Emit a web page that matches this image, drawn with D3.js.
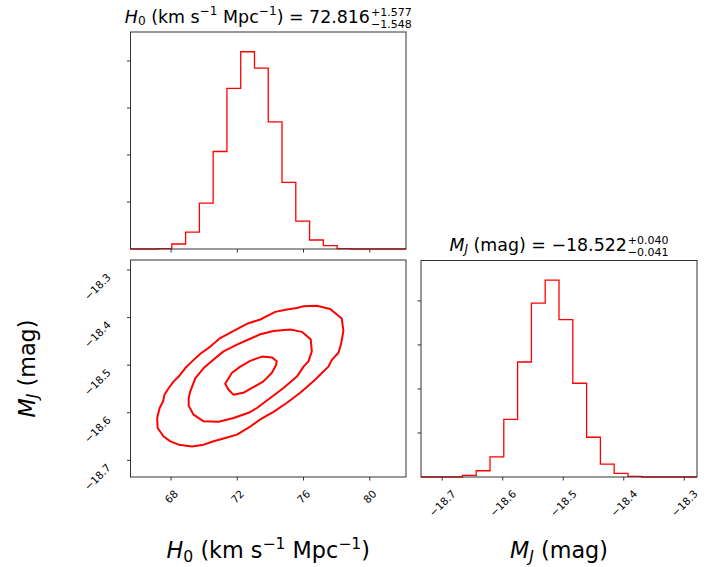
<!DOCTYPE html>
<html>
<head>
<meta charset="utf-8">
<script src="https://cdn.jsdelivr.net/npm/d3@7"></script>
<style>
  body { margin: 0; background: #fff; }
  svg { display: block; }
  text { font-family: "DejaVu Sans", sans-serif; fill: #000; }
</style>
</head>
<body>
<svg id="chart" width="704" height="567"></svg>
<script>
// ---- posterior samples summarised as histograms (20 bins across each range) ----
const h0Range = [65.55, 82.19];
const mjRange = [-18.735, -18.279];
const h0Counts = [0, 0, 10, 106, 361, 977, 2074, 3418, 4197, 3849, 2703, 1416, 594, 191, 70, 6, 0, 0, 0, 0];
const mjCounts = [0, 0, 0, 38, 142, 458, 1309, 2612, 3950, 4470, 3573, 2129, 903, 293, 84, 16, 0, 0, 0, 0];

// ---- tick values ----
const h0Ticks = [68, 72, 76, 80];
const mjTicks = [-18.7, -18.6, -18.5, -18.4, -18.3];
const countTicks = [1000, 2000, 3000, 4000];

// ---- joint-posterior credible contours, [H0, M_J] vertices ----
const contourOuter = [
  [67.19, -18.632], [67.16, -18.611], [67.31, -18.590], [67.52, -18.576], [67.60, -18.562],
  [67.86, -18.548], [68.16, -18.534], [68.46, -18.524], [68.86, -18.506], [69.27, -18.492],
  [69.77, -18.476], [70.37, -18.461], [70.97, -18.443], [71.78, -18.428], [72.58, -18.413],
  [73.39, -18.404], [73.79, -18.397], [74.29, -18.388], [75.00, -18.383], [75.60, -18.380],
  [76.00, -18.376], [76.80, -18.375], [77.61, -18.382], [78.31, -18.402], [78.41, -18.428],
  [78.27, -18.455], [78.11, -18.474], [77.71, -18.489], [77.50, -18.503], [77.00, -18.520],
  [76.60, -18.534], [75.80, -18.558], [75.00, -18.579], [74.19, -18.598], [73.39, -18.614],
  [72.78, -18.629], [71.98, -18.646], [71.38, -18.652], [70.57, -18.660], [69.97, -18.667],
  [69.27, -18.671], [68.46, -18.667], [67.96, -18.660], [67.55, -18.650]
];
const contourMiddle = [
  [69.06, -18.585], [69.07, -18.568], [69.16, -18.555], [69.47, -18.527], [69.97, -18.506],
  [70.57, -18.488], [71.17, -18.471], [71.98, -18.457], [72.68, -18.446], [73.39, -18.435],
  [74.19, -18.428], [75.19, -18.425], [75.90, -18.430], [76.44, -18.446], [76.50, -18.471],
  [76.30, -18.492], [76.00, -18.503], [75.60, -18.524], [74.79, -18.548], [73.99, -18.569],
  [73.19, -18.590], [72.68, -18.600], [71.78, -18.611], [70.87, -18.619], [69.97, -18.618],
  [69.36, -18.604]
];
const contourInner = [
  [71.27, -18.539], [71.68, -18.516], [72.18, -18.503], [72.78, -18.491], [73.49, -18.482],
  [74.11, -18.484], [74.38, -18.492], [74.35, -18.499], [74.09, -18.516], [73.58, -18.534],
  [73.14, -18.543], [72.78, -18.550], [72.36, -18.558], [71.76, -18.562], [71.46, -18.551]
];

// ---- panel geometry ----
const panels = {
  top:   { x0: 130.5, x1: 406, y0: 32,    y1: 249 },
  joint: { x0: 130.5, x1: 406, y0: 260,   y1: 477 },
  right: { x0: 421,   x1: 697, y0: 260.5, y1: 477 }
};

const RED = "#ff0000";
const SPINE = "#333";
const TICK_FS = 10.5;
const svg = d3.select("#chart");
const fmt1 = d3.format(".1f");

function frame(p) {
  svg.append("rect")
    .attr("x", p.x0).attr("y", p.y0)
    .attr("width", p.x1 - p.x0).attr("height", p.y1 - p.y0)
    .attr("fill", "none").attr("stroke", SPINE).attr("stroke-width", 1);
}

function tickMarksX(scale, ticks, y) {
  svg.append("g").selectAll("line").data(ticks).join("line")
    .attr("x1", d => scale(d)).attr("x2", d => scale(d))
    .attr("y1", y).attr("y2", y + 3.5)
    .attr("stroke", SPINE).attr("stroke-width", 1);
}
function tickMarksY(scale, ticks, x) {
  svg.append("g").selectAll("line").data(ticks).join("line")
    .attr("y1", d => scale(d)).attr("y2", d => scale(d))
    .attr("x1", x - 3.5).attr("x2", x)
    .attr("stroke", SPINE).attr("stroke-width", 1);
}

// rotated (45°) labels below an x axis, bounding box hanging from `top`
function xTickLabels(scale, ticks, top, fmt) {
  const fs = TICK_FS;
  const g = svg.append("g");
  ticks.forEach(d => {
    const t = g.append("text")
      .attr("font-size", fs)
      .attr("text-anchor", "middle")
      .attr("dominant-baseline", "central")
      .text(fmt(d));
    const w = t.node().getComputedTextLength();
    const half = (w + fs) / (2 * Math.SQRT2);
    const cx = scale(d), cy = top + half;
    t.attr("x", cx).attr("y", cy).attr("transform", `rotate(-45,${cx},${cy})`);
  });
}

function histogram(p, domain, counts, xTicks) {
  const n = counts.length;
  const x = d3.scaleLinear().domain(domain).range([p.x0, p.x1]);
  const y = d3.scaleLinear().domain([0, 1.1 * d3.max(counts)]).range([p.y1, p.y0]);
  const edges = d3.range(n + 1).map(i => domain[0] + (domain[1] - domain[0]) * i / n);
  const pts = [[edges[0], 0]];
  counts.forEach((c, i) => { pts.push([edges[i], c]); pts.push([edges[i + 1], c]); });
  pts.push([edges[n], 0]);
  svg.append("path")
    .attr("d", d3.line().x(d => x(d[0])).y(d => y(d[1]))(pts))
    .attr("fill", "none").attr("stroke", RED).attr("stroke-width", 1.3);
  frame(p);
  tickMarksX(x, xTicks, p.y1);
  tickMarksY(y, countTicks, p.x0);
  return x;
}

// mathtext-like label: segments with italic / sub / sup styling
function mathText(parent, segs, size) {
  const t = parent.append("text").attr("font-size", size);
  let shift = 0;
  segs.forEach(s => {
    const target = s.s === "sub" ? 0.15 * size : s.s === "sup" ? -0.42 * size : 0;
    const ts = t.append("tspan").text(s.t).attr("dy", target - shift);
    if (s.i) ts.attr("font-style", "italic");
    if (s.s) ts.attr("font-size", 0.7 * size);
    shift = target;
  });
  if (shift !== 0) t.append("tspan").attr("dy", -shift).text("\u200b");
  return t;
}

// title: main text followed by stacked +err / -err scripts, centred at cx
function title(cx, baseline, segs, plus, minus) {
  const size = 17.4, small = 11;
  const g = svg.append("g");
  const main = mathText(g, segs, size).attr("x", 0).attr("y", 0);
  const w1 = main.node().getComputedTextLength();
  const x2 = w1 + 1;
  const up = g.append("text").attr("font-size", small).attr("x", x2).attr("y", -7).text(plus);
  const dn = g.append("text").attr("font-size", small).attr("x", x2).attr("y", 5).text(minus);
  const w2 = Math.max(up.node().getComputedTextLength(), dn.node().getComputedTextLength());
  const total = x2 + w2;
  g.attr("transform", `translate(${cx - total / 2},${baseline})`);
}

// ---- top: H0 marginal ----
const xH0 = histogram(panels.top, h0Range, h0Counts, h0Ticks);

// ---- right: M_J marginal ----
const xMJ = histogram(panels.right, mjRange, mjCounts, mjTicks);
xTickLabels(xMJ, mjTicks, 488, fmt1);

// ---- joint panel ----
const pj = panels.joint;
const jx = d3.scaleLinear().domain(h0Range).range([pj.x0, pj.x1]);
const jy = d3.scaleLinear().domain(mjRange).range([pj.y1, pj.y0]);
const contourLine = d3.line().x(d => jx(d[0])).y(d => jy(d[1])).curve(d3.curveLinearClosed);
[contourOuter, contourMiddle, contourInner].forEach(c => {
  svg.append("path").attr("d", contourLine(c))
    .attr("fill", "none").attr("stroke", RED).attr("stroke-width", 2)
    .attr("stroke-linejoin", "round");
});
frame(pj);
tickMarksX(jx, h0Ticks, pj.y1);
tickMarksY(jy, mjTicks, pj.x0);
xTickLabels(jx, h0Ticks, 488, d => String(d));
svg.append("g").selectAll("text").data(mjTicks).join("text")
  .attr("font-size", TICK_FS)
  .attr("text-anchor", "end")
  .attr("x", 111.5)
  .attr("y", d => jy(d) + 8)
  .attr("transform", d => `rotate(-45,111.5,${jy(d) + 8})`)
  .text(d => fmt1(d));

// ---- titles ----
title((panels.top.x0 + panels.top.x1) / 2, 22.6, [
  { t: "H", i: true }, { t: "0", s: "sub" }, { t: " (km s" }, { t: "\u22121", s: "sup" },
  { t: " Mpc" }, { t: "\u22121", s: "sup" }, { t: ") = 72.816" }
], "+1.577", "\u22121.548");

title((panels.right.x0 + panels.right.x1) / 2, 250.8, [
  { t: "M", i: true }, { t: "J", i: true, s: "sub" }, { t: " (mag) = \u221218.522" }
], "+0.040", "\u22120.041");

// ---- axis labels ----
const labelSize = 22.3;
mathText(svg, [
  { t: "H", i: true }, { t: "0", s: "sub" }, { t: " (km s" }, { t: "\u22121", s: "sup" },
  { t: " Mpc" }, { t: "\u22121", s: "sup" }, { t: ")" }
], labelSize)
  .attr("text-anchor", "middle")
  .attr("x", (pj.x0 + pj.x1) / 2).attr("y", 558.3);

mathText(svg, [{ t: "M", i: true }, { t: "J", i: true, s: "sub" }, { t: " (mag)" }], labelSize)
  .attr("text-anchor", "middle")
  .attr("x", (panels.right.x0 + panels.right.x1) / 2).attr("y", 558.3);

const yl = mathText(svg, [{ t: "M", i: true }, { t: "J", i: true, s: "sub" }, { t: " (mag)" }], labelSize)
  .attr("text-anchor", "middle")
  .attr("x", 0).attr("y", 0);
yl.attr("transform", `translate(35,${(pj.y0 + pj.y1) / 2}) rotate(-90)`);
</script>
</body>
</html>
